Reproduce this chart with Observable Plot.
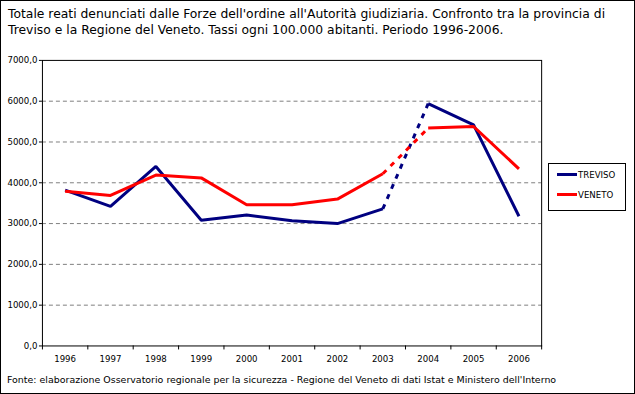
<!DOCTYPE html>
<html><head><meta charset="utf-8">
<script src="https://cdn.jsdelivr.net/npm/d3@7"></script>
<script src="https://cdn.jsdelivr.net/npm/@observablehq/plot@0.6"></script>
<style>
body{margin:0;background:#fff;}
#wrap{position:relative;width:635px;height:394px;box-sizing:border-box;border:1px solid #000;overflow:hidden;font-family:"DejaVu Sans",sans-serif;}
#title{position:absolute;left:7px;top:5px;font-size:12.35px;line-height:16px;color:#000;white-space:nowrap;}
#caption{position:absolute;left:6px;top:373px;font-size:9.45px;color:#000;white-space:nowrap;}
#chart{position:absolute;left:-1px;top:-1px;}
#legend{position:absolute;left:547px;top:162px;width:78px;height:48px;box-sizing:border-box;border:1px solid #000;font-size:8.6px;}
.li{position:absolute;left:8px;height:12px;line-height:12px;}
.sw{display:inline-block;width:20px;height:3px;vertical-align:middle;margin-right:1px;position:relative;top:-1px;}
</style></head>
<body>
<div id="wrap">
<div id="title">Totale reati denunciati dalle Forze dell'ordine all'Autorità giudiziaria. Confronto tra la provincia di<br>Treviso e la Regione del Veneto. Tassi ogni 100.000 abitanti. Periodo 1996-2006.</div>
<div id="chart"></div>
<div id="legend"></div>
<div id="caption">Fonte: elaborazione Osservatorio regionale per la sicurezza - Regione del Veneto di dati Istat e Ministero dell'Interno</div>
</div>
<script>
const years = [1996,1997,1998,1999,2000,2001,2002,2003,2004,2005,2006];
const treviso = [3820,3420,4400,3080,3210,3070,3000,3360,5940,5420,3180];
const veneto = [3790,3690,4190,4120,3460,3460,3600,4220,5340,5380,4340];
const seriesNames = ["TREVISO","VENETO"];
const seriesColors = ["#000080","#FF0000"];
const yTicks = [0,1000,2000,3000,4000,5000,6000,7000];

const rows = [];
years.forEach((y,i)=>{
  rows.push({year:y, value:treviso[i], s:seriesNames[0]});
  rows.push({year:y, value:veneto[i], s:seriesNames[1]});
});
const solid = rows.map(d=>({...d, seg: d.s + (d.year<=2003?"a":"b")}));
const dashed = rows.filter(d=>d.year===2003||d.year===2004);
const bounds = d3.range(years.length+1).map(i=>years[0]-0.5+i);

const plot = Plot.plot({
  width:635, height:394,
  marginLeft:42, marginTop:60, marginRight:93, marginBottom:48,
  x:{domain:[years[0]-0.5, years[years.length-1]+0.5], label:null},
  y:{domain:[0,7000], label:null},
  color:{domain:seriesNames, range:seriesColors},
  style:{fontFamily:"DejaVu Sans", fontSize:"8.6px", background:"transparent", overflow:"visible", color:"#000"},
  marks:[
    Plot.ruleY(yTicks.filter(v=>v>0&&v<7000), {stroke:"#808080", strokeDasharray:"4,3", strokeWidth:1}),
    Plot.frame({stroke:"#000"}),
    Plot.axisY(yTicks, {tickSize:3, tickPadding:2, label:null, tickFormat:d=>d.toFixed(1).replace(".",","), stroke:"#000"}),
    Plot.axisX(bounds, {tickSize:4, label:null, tickFormat:()=>"", stroke:"#000"}),
    Plot.axisX(years, {tickSize:0, tickPadding:10, label:null, tickFormat:d=>String(d)}),
    Plot.line(solid, {x:"year", y:"value", z:"seg", stroke:"s", strokeWidth:3, strokeLinejoin:"miter", strokeLinecap:"butt"}),
    Plot.line(dashed, {x:"year", y:"value", z:"s", stroke:"s", strokeWidth:3, strokeDasharray:"5,6", strokeLinecap:"butt"})
  ]
});
document.getElementById("chart").appendChild(plot);

const leg = document.getElementById("legend");
seriesNames.forEach((n,i)=>{
  const d = document.createElement("div");
  d.className="li";
  d.style.top = (5 + i*20) + "px";
  d.innerHTML = `<span class="sw" style="background:${seriesColors[i]}"></span>${n}`;
  leg.appendChild(d);
});
</script>
</body></html>
